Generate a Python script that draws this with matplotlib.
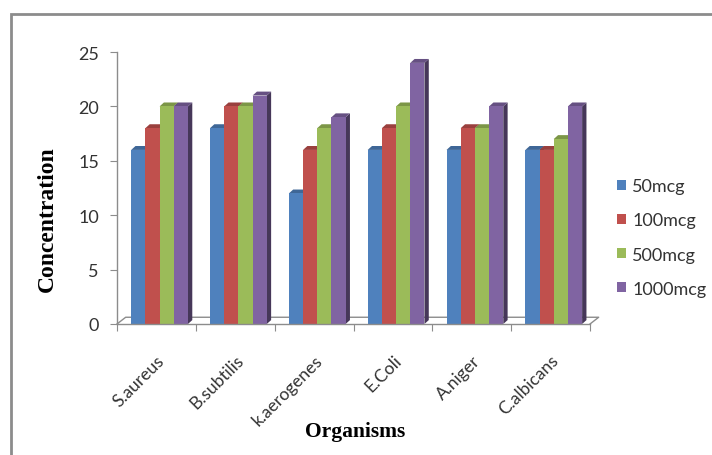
import matplotlib.pyplot as plt
import matplotlib.colors as mcolors
from matplotlib.patches import Polygon, Rectangle, Patch

organisms = ['S.aureus', 'B.subtilis', 'k.aerogenes', 'E.Coli', 'A.niger', 'C.albicans']
doses = ['50mcg', '100mcg', '500mcg', '1000mcg']
mcg50 = [16, 18, 12, 16, 16, 16]
mcg100 = [18, 20, 16, 18, 18, 16]
mcg500 = [20, 20, 18, 20, 18, 17]
mcg1000 = [20, 21, 19, 24, 20, 20]
series = [mcg50, mcg100, mcg500, mcg1000]
colors = ['#4F81BD', '#C0504D', '#9BBB59', '#8064A2']


def shade(c, f):
    r, g, b = mcolors.to_rgb(c)
    return (r * f, g * f, b * f)


H = 456
fig = plt.figure(figsize=(7.12, 4.56), dpi=100)
ax = fig.add_axes([117 / 712, (H - 325) / H, (590 - 117) / 712, (325 - 53) / H])
ax.set_xlim(0, 6)
ax.set_ylim(0, 25)

# floor depth and bar depth (data units)
fdx, fdy = 0.11, 0.62
bdx, bdy = 0.055, 0.36
width = 0.18

axis_col = '#8c8c8c'
text_col = '#333333'
# floor outline
ax.plot([0, fdx, 6 + fdx, 6], [0, fdy, fdy, 0], color=axis_col, lw=1, clip_on=False, zorder=1)

for i in range(len(organisms)):
    for j, vals in enumerate(series):
        x = i + 0.18 + j * width
        h = vals[i]
        c = colors[j]
        ax.add_patch(Polygon([(x + width, 0), (x + width + bdx, bdy), (x + width + bdx, h + bdy), (x + width, h)],
                             closed=True, fc=shade(c, 0.55), ec='none', clip_on=False, zorder=2))
        ax.add_patch(Polygon([(x, h), (x + bdx, h + bdy), (x + width + bdx, h + bdy), (x + width, h)],
                             closed=True, fc=shade(c, 0.8), ec='none', clip_on=False, zorder=2))
        ax.add_patch(Rectangle((x, 0), width, h, fc=c, ec='none', clip_on=False, zorder=2))

for s in ['top', 'right']:
    ax.spines[s].set_visible(False)
for s in ['left', 'bottom']:
    ax.spines[s].set_color(axis_col)
    ax.spines[s].set_linewidth(1)

ax.set_yticks(range(0, 26, 5))
ax.set_xticks(range(0, 7))
ax.set_xticklabels([])
ax.set_xticks([i + 0.5 for i in range(6)], minor=True)
ax.set_xticklabels(organisms, minor=True, rotation=45, ha='right', va='top',
                   rotation_mode='anchor', fontsize=12.5, family='Lato', color=text_col)
ax.tick_params(axis='x', which='minor', length=0, pad=20)
ax.tick_params(axis='x', which='major', length=5, color=axis_col)
ax.tick_params(axis='y', length=5, color=axis_col, labelsize=13, labelcolor=text_col, pad=8)
for t in ax.get_yticklabels():
    t.set_family('Lato')

ax.set_ylabel('Concentration', family='Liberation Serif', fontweight='bold', fontsize=17,
              va='center')
ax.yaxis.set_label_coords(-0.148, 0.39)
ax.set_xlabel('Organisms', family='Liberation Serif', fontweight='bold', fontsize=15.5,
              va='center')
ax.xaxis.set_label_coords(0.503, -0.393)

handles = [Patch(fc=c, ec='none') for c in colors]
fig.legend(handles, doses, loc='center left', bbox_to_anchor=(617 / 712, 1 - 238.5 / H),
           frameon=False, prop={'family': 'Lato', 'size': 13}, handlelength=0.5,
           handleheight=0.5, handletextpad=0.35, labelspacing=1.0,
           borderpad=0, borderaxespad=0, labelcolor=text_col)

# outer chart frame
fig.patches.append(Rectangle((11 / 712, -0.2), 1.5, 0.2 + 1 - 15 / H, transform=fig.transFigure,
                             fill=False, ec='#8c8c8c', lw=2))

fig.savefig('out.png', dpi=100)
